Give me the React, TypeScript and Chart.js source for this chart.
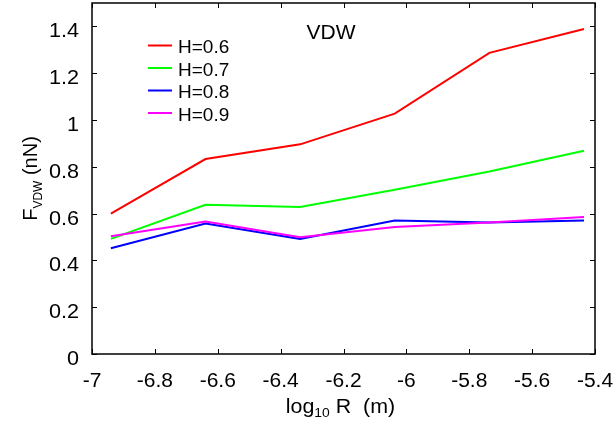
import React, { useEffect, useRef } from "react";
import { Chart, registerables } from "chart.js";

Chart.register(...registerables);

const xValues = [-6.94, -6.639, -6.338, -6.037, -5.736, -5.435];
const seriesH06 = [0.6, 0.833, 0.896, 1.027, 1.287, 1.389];
const seriesH07 = [0.492, 0.638, 0.628, 0.702, 0.78, 0.869];
const seriesH08 = [0.452, 0.558, 0.492, 0.57, 0.562, 0.57];
const seriesH09 = [0.503, 0.566, 0.499, 0.543, 0.562, 0.585];
const seriesLabels = ["H=0.6", "H=0.7", "H=0.8", "H=0.9"];
const seriesColors = ["#ff0000", "#00ff00", "#0000ff", "#ff00ff"];
const xTicks = [-7, -6.8, -6.6, -6.4, -6.2, -6, -5.8, -5.6, -5.4];
const yTicks = [0, 0.2, 0.4, 0.6, 0.8, 1, 1.2, 1.4];
const titleText = "VDW";

const FONT = "'Liberation Sans', Arial, sans-serif";

function drawStretched(
  ctx: CanvasRenderingContext2D,
  text: string,
  x: number,
  y: number,
  align: "left" | "center" | "right",
  size: number,
  sx = 1.0
) {
  ctx.save();
  ctx.font = `${size}px ${FONT}`;
  const w = ctx.measureText(text).width * sx;
  let left = x;
  if (align === "center") left = x - w / 2;
  else if (align === "right") left = x - w;
  ctx.translate(left, y);
  ctx.scale(sx, 1);
  ctx.textAlign = "left";
  ctx.textBaseline = "alphabetic";
  ctx.fillStyle = "#000";
  ctx.fillText(text, 0, 0);
  ctx.restore();
}

const framePlugin = {
  id: "framePlugin",
  afterDraw(chart: any) {
    const ctx: CanvasRenderingContext2D = chart.ctx;
    const xs = chart.scales.x;
    const ys = chart.scales.y;
    const a = chart.chartArea;
    ctx.save();
    ctx.strokeStyle = "#000";
    ctx.lineWidth = 1.5;
    ctx.strokeRect(a.left, a.top, a.right - a.left, a.bottom - a.top);
    const tl = 5;
    ctx.beginPath();
    for (const t of xTicks) {
      const px = Math.round(xs.getPixelForValue(t)) + 0.5;
      ctx.moveTo(px, a.bottom);
      ctx.lineTo(px, a.bottom - tl);
      ctx.moveTo(px, a.top);
      ctx.lineTo(px, a.top + tl);
    }
    for (const t of yTicks) {
      const py = Math.round(ys.getPixelForValue(t)) + 0.5;
      ctx.moveTo(a.left, py);
      ctx.lineTo(a.left + tl, py);
      ctx.moveTo(a.right, py);
      ctx.lineTo(a.right - tl, py);
    }
    ctx.lineWidth = 1;
    ctx.stroke();

    // tick labels
    for (const t of xTicks) {
      const px = xs.getPixelForValue(t);
      drawStretched(ctx, String(t), px, a.bottom + 33, "center", 20, 1.05);
    }
    for (const t of yTicks) {
      const py = ys.getPixelForValue(t);
      drawStretched(ctx, String(t), a.left - 13, py + 11, "right", 20, 1.08);
    }

    // x axis title: log10 R  (m)
    {
      ctx.font = `20px ${FONT}`;
      const w1 = ctx.measureText("log").width;
      const w3 = ctx.measureText(" R  (m)").width;
      ctx.font = `13px ${FONT}`;
      const w2 = ctx.measureText("10").width;
      const sx = 1.07;
      const total = (w1 + w2 + w3) * sx;
      const cx = (a.left + a.right) / 2 - 3;
      let x0 = cx - total / 2;
      const base = 413;
      drawStretched(ctx, "log", x0, base, "left", 20, sx);
      x0 += w1 * sx;
      drawStretched(ctx, "10", x0, base + 4, "left", 13, sx);
      x0 += w2 * sx;
      drawStretched(ctx, " R  (m)", x0, base, "left", 20, sx);
    }

    // y axis title: F_VDW (nN)
    {
      ctx.save();
      ctx.translate(37, (a.top + a.bottom) / 2);
      ctx.rotate(-Math.PI / 2);
      ctx.font = `20px ${FONT}`;
      const w1 = ctx.measureText("F").width;
      const w3 = ctx.measureText(" (nN)").width;
      ctx.font = `12px ${FONT}`;
      const w2 = ctx.measureText("VDW").width;
      const total = w1 + w2 + w3;
      let x0 = -total / 2;
      ctx.fillStyle = "#000";
      ctx.textBaseline = "alphabetic";
      ctx.textAlign = "left";
      ctx.font = `20px ${FONT}`;
      ctx.fillText("F", x0, 0);
      x0 += w1;
      ctx.font = `12px ${FONT}`;
      ctx.fillText("VDW", x0, 5);
      x0 += w2;
      ctx.font = `20px ${FONT}`;
      ctx.fillText(" (nN)", x0, 0);
      ctx.restore();
    }

    // title
    drawStretched(ctx, titleText, 331, 39, "center", 20, 1.05);

    // legend
    const rows = [45.5, 68, 90.5, 113];
    for (let i = 0; i < seriesLabels.length; i++) {
      ctx.beginPath();
      ctx.strokeStyle = seriesColors[i];
      ctx.lineWidth = 2;
      ctx.moveTo(148, rows[i]);
      ctx.lineTo(172, rows[i]);
      ctx.stroke();
      drawStretched(ctx, seriesLabels[i], 178, rows[i] + 7.5, "left", 19, 1.0);
    }
    ctx.restore();
  },
};

export default function App() {
  const ref = useRef<HTMLCanvasElement | null>(null);
  useEffect(() => {
    document.body.style.margin = "0";
    const canvas = ref.current;
    if (!canvas) return;
    const allSeries = [seriesH06, seriesH07, seriesH08, seriesH09];
    const chart = new Chart(canvas, {
      type: "line",
      data: {
        datasets: allSeries.map((s, i) => ({
          label: seriesLabels[i],
          data: s.map((v, j) => ({ x: xValues[j], y: v })),
          borderColor: seriesColors[i],
          backgroundColor: seriesColors[i],
          borderWidth: 2,
          pointRadius: 0,
          tension: 0,
          fill: false,
          order: 4 - i,
        })),
      },
      options: {
        animation: false,
        responsive: false,
        devicePixelRatio: 1,
        layout: { padding: { left: 92, right: 21, top: 3, bottom: 73 } },
        plugins: { legend: { display: false }, tooltip: { enabled: false }, title: { display: false } },
        scales: {
          x: { type: "linear", min: -7, max: -5.4, display: false },
          y: { type: "linear", min: 0, max: 1.5, display: false },
        },
      },
      plugins: [framePlugin],
    });
    return () => chart.destroy();
  }, []);
  return (
    <div style={{ position: "absolute", left: 0, top: 0, width: 616, height: 427, background: "#fff" }}>
      <canvas ref={ref} width={616} height={427} />
    </div>
  );
}
